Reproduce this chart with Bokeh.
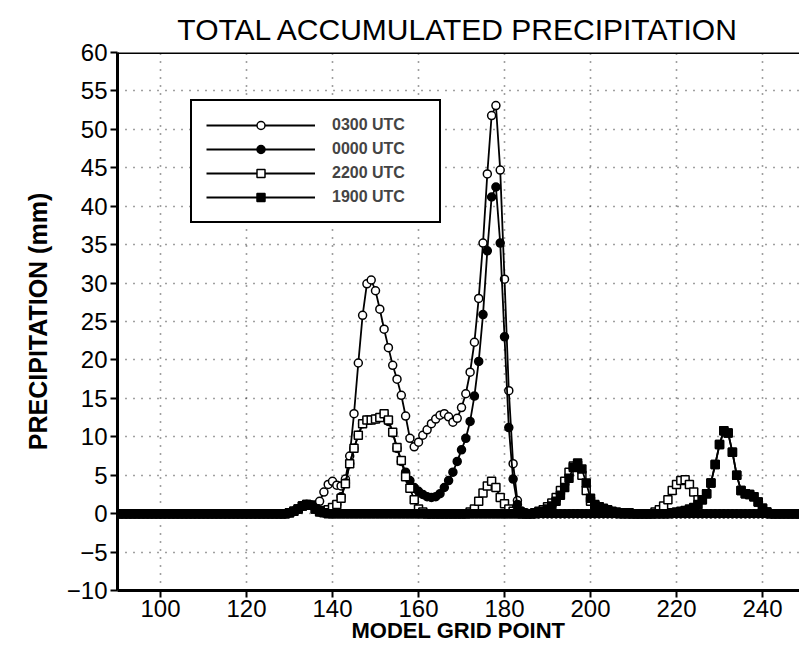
from bokeh.plotting import figure
from bokeh.models import Legend, LegendItem, FixedTicker, Span
from bokeh.embed import file_html
from bokeh.resources import INLINE

grid_point = list(range(90, 250))

precip_0300 = [
    0, 0, 0, 0, 0, 0, 0, 0, 0, 0,                      # 90-99
    0, 0, 0, 0, 0, 0, 0, 0, 0, 0,                      # 100-109
    0, 0, 0, 0, 0, 0, 0, 0, 0, 0,                      # 110-119
    0, 0, 0, 0, 0, 0, 0, 0, 0, 0,                      # 120-129
    0.1, 0.3, 0.6, 1.0, 1.2, 1.1, 0.8, 1.6, 2.8, 3.8,  # 130-139
    4.2, 3.7, 3.6, 4.5, 7.5, 13.0, 19.6, 25.8, 29.9, 30.4,   # 140-149
    29.0, 26.6, 24.0, 21.6, 19.3, 17.5, 15.4, 12.7, 9.8, 8.7,  # 150-159
    9.3, 10.2, 10.9, 11.7, 12.3, 12.8, 13.0, 12.6, 11.9, 12.4,  # 160-169
    13.8, 15.6, 18.4, 22.3, 28.0, 35.2, 44.2, 51.8, 53.1, 44.7,  # 170-179
    30.5, 16.0, 6.5, 1.7, 0.3, 0, 0, 0, 0, 0,          # 180-189
    0, 0, 0, 0, 0, 0, 0, 0, 0, 0,                      # 190-199
    0, 0, 0, 0, 0, 0, 0, 0, 0, 0,                      # 200-209
    0, 0, 0, 0, 0, 0, 0, 0, 0, 0,                      # 210-219
    0, 0, 0, 0, 0, 0, 0, 0, 0, 0,                      # 220-229
    0, 0, 0, 0, 0, 0, 0, 0, 0, 0,                      # 230-239
    0, 0, 0, 0, 0, 0, 0, 0, 0, 0,                      # 240-249
]

precip_0000 = [
    0, 0, 0, 0, 0, 0, 0, 0, 0, 0,
    0, 0, 0, 0, 0, 0, 0, 0, 0, 0,
    0, 0, 0, 0, 0, 0, 0, 0, 0, 0,
    0, 0, 0, 0, 0, 0, 0, 0, 0, 0,
    0.1, 0.3, 0.6, 1.0, 1.2, 1.1, 0.6, 0.2, 0.1, 0.3,
    0.6, 1.2, 2.2, 4.0, 6.5, 8.5, 10.2, 11.7, 12.2, 12.2,
    12.3, 12.5, 12.9, 12.0, 10.5, 8.5, 6.8, 5.4, 4.3, 3.4,
    2.9, 2.5, 2.2, 2.1, 2.2, 2.6, 3.4, 4.3, 5.4, 6.8,
    8.3, 9.8, 12.0, 15.3, 19.8, 25.9, 34.2, 41.2, 42.5, 35.2,
    23.0, 11.2, 4.5, 1.2, 0.3, 0.1, 0, 0, 0, 0,
    0, 0, 0, 0, 0, 0, 0, 0, 0, 0,
    0, 0, 0, 0, 0, 0, 0, 0, 0, 0,
    0, 0, 0, 0, 0, 0, 0, 0, 0, 0,
    0, 0, 0, 0, 0, 0, 0, 0, 0, 0,
    0, 0, 0, 0, 0, 0, 0, 0, 0, 0,
    0, 0, 0, 0, 0, 0, 0, 0, 0, 0,
]

precip_2200 = [
    0, 0, 0, 0, 0, 0, 0, 0, 0, 0,
    0, 0, 0, 0, 0, 0, 0, 0, 0, 0,
    0, 0, 0, 0, 0, 0, 0, 0, 0, 0,
    0, 0, 0, 0, 0, 0, 0, 0, 0, 0,
    0.1, 0.3, 0.6, 1.0, 1.2, 1.1, 0.6, 0.4, 0.3, 0.5,
    0.8, 1.2, 2.0, 3.9, 6.5, 8.5, 10.2, 11.7, 12.2, 12.2,
    12.3, 12.5, 13.0, 12.2, 10.6, 8.6, 6.9, 4.8, 3.3, 1.8,
    0.6, 0.2, 0, 0, 0, 0, 0, 0, 0, 0,
    0, 0, 0.2, 0.6, 1.6, 2.7, 3.6, 4.2, 3.4, 2.1,
    1.3, 0.6, 0.3, 0.1, 0, 0, 0, 0, 0.3, 0.5,
    0.9, 1.4, 2.1, 3.0, 4.2, 5.4, 6.2, 6.3, 5.0, 3.0,
    1.6, 1.1, 0.9, 0.6, 0.4, 0.2, 0.1, 0, 0, 0,
    0, 0, 0, 0, 0, 0.2, 0.5, 1.0, 1.8, 3.0,
    3.8, 4.3, 4.4, 3.8, 2.8, 1.8, 1.8, 2.6, 4.0, 6.4,
    9.0, 10.8, 10.5, 8.0, 5.0, 3.0, 2.6, 2.5, 2.2, 1.5,
    0.7, 0.2, 0, 0, 0, 0, 0, 0, 0, 0,
]

precip_1900 = [
    0, 0, 0, 0, 0, 0, 0, 0, 0, 0,
    0, 0, 0, 0, 0, 0, 0, 0, 0, 0,
    0, 0, 0, 0, 0, 0, 0, 0, 0, 0,
    0, 0, 0, 0, 0, 0, 0, 0, 0, 0,
    0.1, 0.3, 0.6, 1.0, 1.2, 1.1, 0.6, 0.2, 0.1, 0,
    0, 0, 0, 0, 0, 0, 0, 0, 0, 0,
    0, 0, 0, 0, 0, 0, 0, 0, 0, 0,
    0, 0, 0, 0, 0, 0, 0, 0, 0, 0,
    0, 0, 0, 0, 0, 0, 0, 0, 0, 0,
    0, 0, 0, 0, 0, 0, 0, 0.1, 0.2, 0.3,
    0.6, 1.0, 1.6, 2.4, 3.4, 4.6, 6.0, 6.6, 5.8, 4.0,
    2.0, 1.2, 0.9, 0.7, 0.5, 0.3, 0.2, 0.1, 0.1, 0.1,
    0, 0, 0, 0, 0, 0, 0, 0, 0, 0.1,
    0.2, 0.3, 0.4, 0.6, 0.8, 1.2, 1.8, 2.6, 4.0, 6.4,
    9.0, 10.8, 10.5, 8.0, 5.0, 3.0, 2.6, 2.5, 2.2, 1.5,
    0.7, 0.2, 0, 0, 0, 0, 0, 0, 0, 0,
]

series_labels = ["0300 UTC", "0000 UTC", "2200 UTC", "1900 UTC"]
series_values = [precip_0300, precip_0000, precip_2200, precip_1900]
series_markers = ["circle", "circle", "square", "square"]
series_fills = ["white", "black", "white", "black"]

x_ticks = [100, 120, 140, 160, 180, 200, 220, 240]
y_ticks = [-10, -5, 0, 5, 10, 15, 20, 25, 30, 35, 40, 45, 50, 55, 60]

p = figure(width=799, height=654, x_range=(90, 248.6), y_range=(-10, 60),
           output_backend="svg", toolbar_location=None,
           min_border_left=117, min_border_right=0, min_border_top=52, min_border_bottom=64)
p.outline_line_color = None
p.background_fill_color = "white"
p.border_fill_color = "white"

p.title.text = "TOTAL ACCUMULATED PRECIPITATION"
p.title.align = "center"
p.title.vertical_align = "top"
p.title.text_line_height = 0.6
p.title.text_font = "Liberation Sans"
p.title.text_font_size = "30px"
p.title.text_font_style = "normal"
p.title.text_color = "black"

for ax in (p.xaxis[0], p.yaxis[0]):
    ax.axis_line_width = 3
    ax.axis_line_color = "black"
    ax.major_tick_line_width = 2
    ax.major_tick_line_color = "black"
    ax.major_tick_out = 7
    ax.major_tick_in = 0
    ax.minor_tick_line_color = None
    ax.major_label_text_font = "Liberation Sans"
    ax.major_label_text_font_size = "24px"
    ax.major_label_text_color = "black"
    ax.axis_label_text_font = "Liberation Sans"
    ax.axis_label_text_font_style = "bold"
    ax.axis_label_text_color = "black"

p.xaxis.axis_label_text_font_size = "22px"
p.yaxis.axis_label_text_font_size = "25px"
p.xaxis.ticker = FixedTicker(ticks=x_ticks)
p.yaxis.ticker = FixedTicker(ticks=y_ticks)
p.yaxis.major_label_overrides = {-10: "\u221210", -5: "\u22125"}
p.xaxis.axis_label = "MODEL GRID POINT"
p.yaxis.axis_label = "PRECIPITATION (mm)"
p.xaxis.major_label_standoff = 2
p.xaxis.axis_label_standoff = -2
p.yaxis.major_label_standoff = 3
p.yaxis.axis_label_standoff = 12

for g in (p.xgrid[0], p.ygrid[0]):
    g.grid_line_color = "black"
    g.grid_line_width = 1.6
    g.grid_line_dash = "1 7"
    g.grid_line_alpha = 0.75

p.add_layout(Span(location=60, dimension="width", line_color="black", line_width=3))

items = []
for label, vals, mk, fc in zip(series_labels, series_values, series_markers, series_fills):
    ln = p.line(grid_point, vals, line_color="black", line_width=1.8)
    sc = p.scatter(grid_point, vals, marker=mk, size=8, fill_color=fc,
                   line_color="black", line_width=1.5)
    items.append(LegendItem(label=label, renderers=[ln, sc]))

legend = Legend(items=items, location=(73, 367))
legend.glyph_width = 109
legend.glyph_height = 20
legend.label_height = 20
legend.label_width = 93
legend.spacing = 4
legend.padding = 14
legend.margin = 0
legend.label_standoff = 17
legend.label_text_font = "Liberation Sans"
legend.label_text_font_size = "16px"
legend.label_text_font_style = "bold"
legend.border_line_color = "black"
legend.border_line_alpha = 1
legend.border_line_width = 2
legend.background_fill_color = "white"
legend.background_fill_alpha = 1
p.add_layout(legend)

open("out.html", "w").write(file_html(p, INLINE))
